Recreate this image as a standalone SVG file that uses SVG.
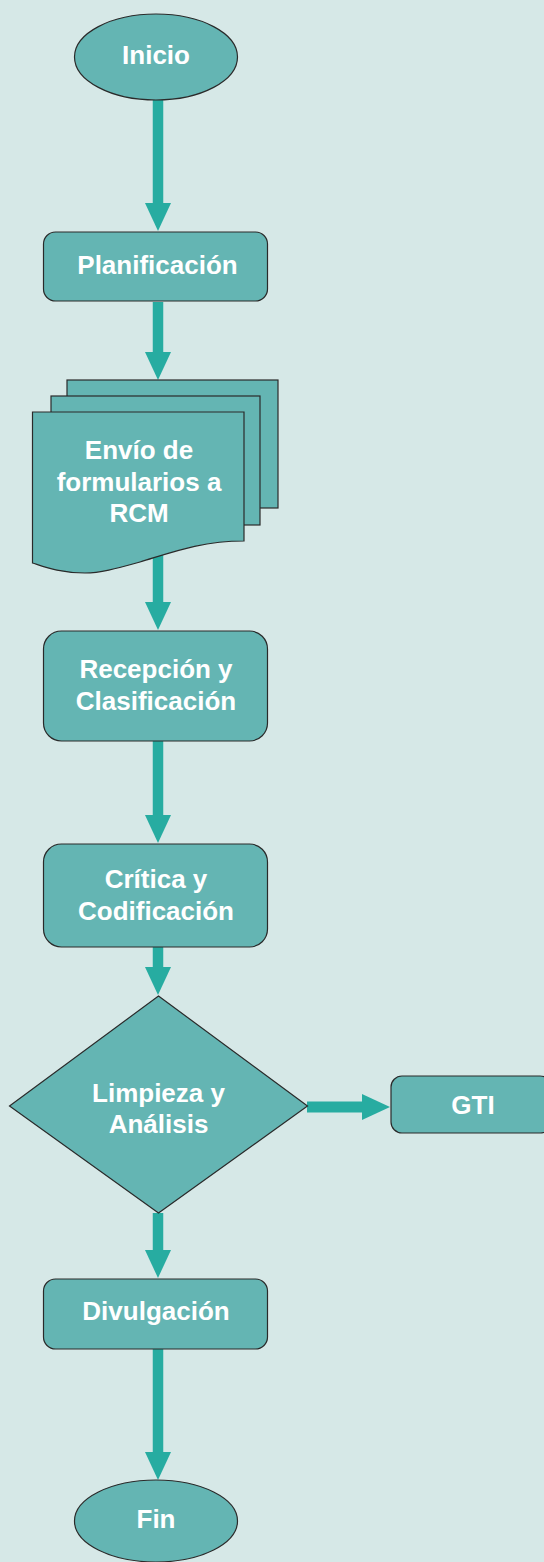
<svg xmlns="http://www.w3.org/2000/svg" width="544" height="1562" viewBox="0 0 544 1562">
<defs>
<style>
.bg{fill:#d6e8e7}
.n{fill:#64b5b3;stroke:#2a2a2a;stroke-width:1.2}
.t{font-family:"Liberation Sans",Arial,sans-serif;font-weight:bold;font-size:26px;fill:#ffffff;text-anchor:middle}
.c{stroke:#27aca1;stroke-width:10.5;fill:none}
.h{fill:#27aca1}
</style>
</defs>
<rect class="bg" x="0" y="0" width="544" height="1562"/>
<g id="connectors">
<line class="c" x1="158" y1="100" x2="158" y2="205"/>
<polygon class="h" points="145,203 171,203 158,231"/>
<line class="c" x1="158" y1="302" x2="158" y2="354"/>
<polygon class="h" points="145,352 171,352 158,380"/>
<line class="c" x1="158" y1="555" x2="158" y2="604"/>
<polygon class="h" points="145,602 171,602 158,630"/>
<line class="c" x1="158" y1="741" x2="158" y2="817"/>
<polygon class="h" points="145,815 171,815 158,843"/>
<line class="c" x1="158" y1="947" x2="158" y2="969"/>
<polygon class="h" points="145,967 171,967 158,995"/>
<line class="c" x1="158" y1="1213" x2="158" y2="1252"/>
<polygon class="h" points="145,1250 171,1250 158,1278"/>
<line class="c" x1="158" y1="1349" x2="158" y2="1454"/>
<polygon class="h" points="145,1452 171,1452 158,1480"/>
<line x1="307" y1="1107" x2="364" y2="1107" stroke="#27aca1" stroke-width="11"/>
<polygon class="h" points="362,1094 362,1120 390,1107"/>
</g>
<g id="inicio">
<ellipse class="n" cx="156" cy="57" rx="81.5" ry="43"/>
<text class="t" x="156" y="64">Inicio</text>
</g>
<g id="planificacion">
<rect class="n" x="43.5" y="232" width="224" height="69" rx="12"/>
<text class="t" x="157.5" y="274">Planificación</text>
</g>
<g id="envio">
<rect class="n" x="67" y="380" width="211" height="128"/>
<rect class="n" x="51" y="396" width="209" height="129"/>
<path class="n" d="M32.5,412 H244 V541 C200,541 170,553 140,562 C115,569 100,573 85,573 C60,573 45,567 32.5,563 Z"/>
<text class="t" x="139" y="459">Envío de</text>
<text class="t" x="139" y="490.5">formularios a</text>
<text class="t" x="139" y="522">RCM</text>
</g>
<g id="recepcion">
<rect class="n" x="43.5" y="631" width="224" height="110" rx="18"/>
<text class="t" x="156" y="678">Recepción y</text>
<text class="t" x="156" y="710">Clasificación</text>
</g>
<g id="critica">
<rect class="n" x="43.5" y="844" width="224" height="103" rx="18"/>
<text class="t" x="156" y="888">Crítica y</text>
<text class="t" x="156" y="920">Codificación</text>
</g>
<g id="limpieza">
<polygon class="n" points="158.5,996 307.5,1106 158.5,1213 9.5,1106"/>
<text class="t" x="158.5" y="1102">Limpieza y</text>
<text class="t" x="158.5" y="1133">Análisis</text>
</g>
<g id="gti">
<rect class="n" x="391" y="1076" width="160" height="57" rx="11"/>
<text class="t" x="473" y="1114">GTI</text>
</g>
<g id="divulgacion">
<rect class="n" x="43.5" y="1279" width="224" height="70" rx="12"/>
<text class="t" x="156" y="1320">Divulgación</text>
</g>
<g id="fin">
<ellipse class="n" cx="156" cy="1521" rx="81.5" ry="41"/>
<text class="t" x="156" y="1528">Fin</text>
</g>
</svg>
